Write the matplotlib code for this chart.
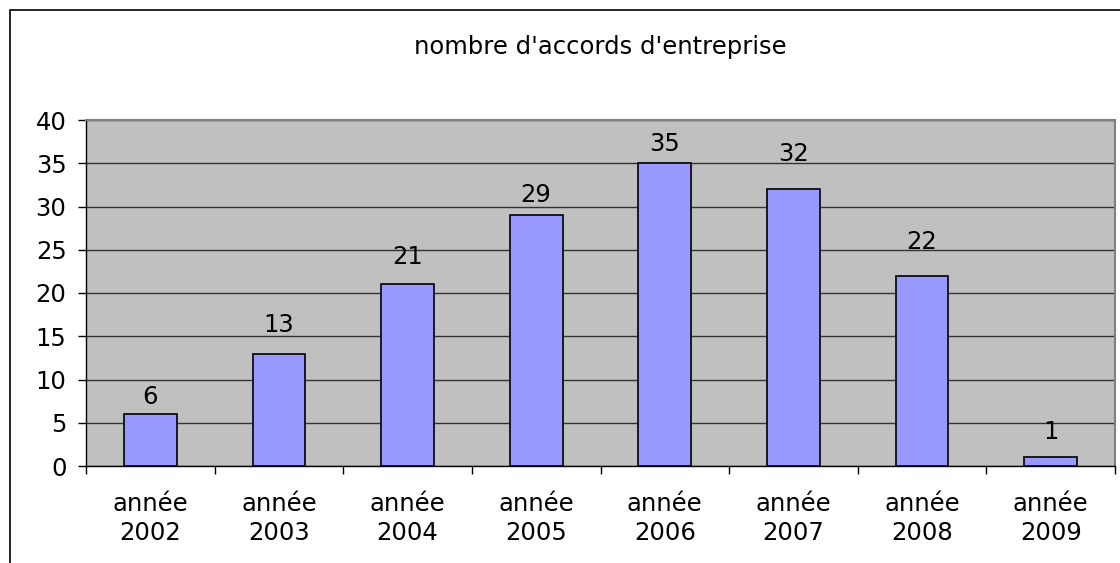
import matplotlib
matplotlib.use("Agg")
import matplotlib.pyplot as plt
from matplotlib.patches import Rectangle

categories = ["année\n2002", "année\n2003", "année\n2004", "année\n2005",
              "année\n2006", "année\n2007", "année\n2008", "année\n2009"]
values = [6, 13, 21, 29, 35, 32, 22, 1]
yticks = [0, 5, 10, 15, 20, 25, 30, 35, 40]
title = "nombre d'accords d'entreprise"

# gap (in pixels) between bar top and its value label, as placed in the reference
label_gap_px = [10, 22, 20, 13, 12, 28, 27, 18]

plt.rcParams['font.family'] = ['DejaVu Sans']
FS = 17.5

W, H = 1120, 563
fig = plt.figure(figsize=(W / 100, H / 100), dpi=100)
fig.patch.set_facecolor("white")

# figure border (left and top visible)
fig.add_artist(Rectangle((10 / W, -0.1), 1.2, 1 - 10 / H + 0.1, transform=fig.transFigure,
                         fill=False, edgecolor="black", linewidth=1.2))

left, right, top, bottom = 86, 1115, 120, 466
ax = fig.add_axes([left / W, 1 - bottom / H, (right - left) / W, (bottom - top) / H])
ax.set_facecolor("#C0C0C0")

x = list(range(len(values)))
ax.bar(x, values, width=0.41, color="#9999FF", edgecolor="black", linewidth=1.2, zorder=3)
for xi, v, g in zip(x, values, label_gap_px):
    ax.annotate(str(v), (xi, v), xytext=(0, g * 0.72), textcoords="offset points",
                ha="center", va="baseline", fontsize=FS, color="black")

ax.set_xlim(-0.5, len(values) - 0.5)
ax.set_ylim(0, 40)
ax.set_yticks(yticks)
ax.set_yticklabels([str(t) for t in yticks], fontsize=FS)
ax.yaxis.grid(True, color="#333333", linewidth=1.0, zorder=1)
ax.set_axisbelow(True)

ax.set_xticks(x)
ax.set_xticklabels(categories, fontsize=FS, linespacing=1.25)
ax.tick_params(axis="x", length=0, pad=19)
ax.set_xticks([i - 0.5 for i in range(len(values) + 1)], minor=True)
ax.tick_params(axis="x", which="minor", length=6, width=1, color="black", direction="out")
ax.tick_params(axis="y", length=6, width=1, color="black", direction="out", pad=8)

for s in ["top", "right"]:
    ax.spines[s].set_color("#808080")
    ax.spines[s].set_linewidth(1.5)
ax.spines["left"].set_color("black")
ax.spines["bottom"].set_color("black")
ax.spines["left"].set_linewidth(1.0)
ax.spines["bottom"].set_linewidth(1.0)

fig.text((left + right) / 2 / W, 1 - 47 / H, title, ha="center", va="center", fontsize=FS)

fig.savefig("out.png", dpi=100)
